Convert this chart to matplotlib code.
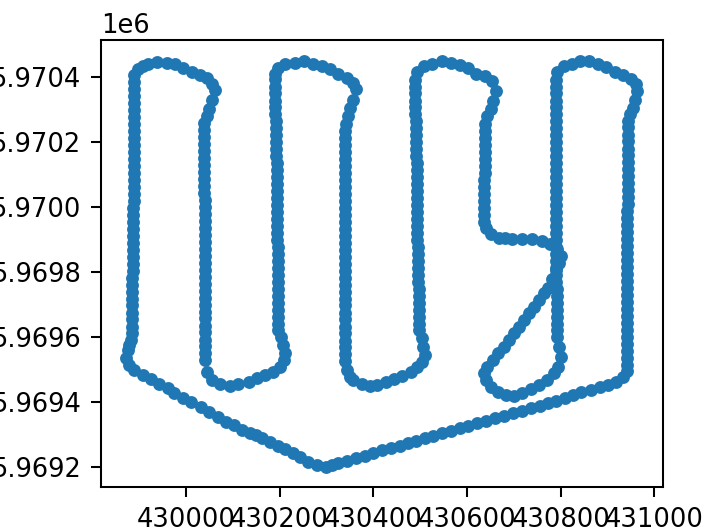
import numpy as np
import matplotlib
matplotlib.use('Agg')
import matplotlib.pyplot as plt

# Origine delle coordinate locali (UTM) [m]
E0 = 430000
N0 = 5969000

# Tick degli assi
x_ticks = [430000, 430200, 430400, 430600, 430800, 431000]
y_ticks = [5969200, 5969400, 5969600, 5969800, 5970000, 5970200, 5970400]

# Lato sud-ovest: dal vertice in basso fino all'angolo sinistro
sw_e = [299, 280, 261, 244, 229, 212, 197, 180, 163, 150, 138, 121, 102, 85, 68, 49, 32, 11, -6, -25,
        -38, -57, -74, -91, -110, -121, -127, -123, -121, -117, -115]
sw_n = [200, 206, 215, 231, 243, 255, 264, 277, 289, 297, 304, 314, 329, 338, 353, 369, 384, 399, 412, 427,
        442, 455, 470, 482, 498, 513, 534, 559, 574, 590, 611]

# Colonna 1 (salita)
c1_e = [-115, -115, -115, -115, -114, -114, -114, -114, -113, -113, -113, -113,
        -113, -112, -112, -112, -112, -112, -111, -111, -111, -111, -111, -111,
        -110, -110, -110, -110, -110, -110, -110, -110, -110, -110, -110, -110]
c1_n = [632, 654, 675, 697, 718, 740, 761, 783, 804, 826, 847, 869, 890, 912, 933, 955, 976, 998,
        1019, 1041, 1062, 1084, 1105, 1127, 1148, 1170, 1191, 1213, 1234, 1256, 1277, 1299, 1320, 1342, 1363, 1385]

# Curva in alto 1
t1_e = [-110, -102, -91, -81, -62, -40, -23, -6, 13, 30, 45, 57, 62, 57, 49, 45, 38]
t1_n = [1409, 1425, 1434, 1443, 1449, 1446, 1440, 1428, 1418, 1409, 1397, 1379, 1360, 1332, 1302, 1280, 1259]

# Colonna 2 (discesa)
c2_e = [38, 38, 38, 39, 39, 39, 39, 39, 39, 39, 40, 40, 40, 40, 40, 40, 40,
        40, 40, 40, 40, 40, 40, 40, 40, 40, 40, 40, 40, 40, 40, 40, 40, 40]
c2_n = [1237, 1216, 1194, 1173, 1151, 1130, 1108, 1087, 1065, 1044, 1022, 1001, 979, 958, 936, 915, 893,
        872, 850, 829, 807, 786, 764, 743, 721, 700, 678, 657, 635, 614, 592, 571, 549, 528]

# Curva in basso 2
b2_e = [45, 55, 74, 95, 112, 134, 153, 170, 187, 201, 210, 212, 208, 204, 197]
b2_n = [492, 467, 455, 449, 455, 461, 473, 482, 492, 507, 528, 550, 574, 599, 620]

# Colonna 3 (salita)
c3_e = [196, 196, 196, 196, 196, 196, 196, 196, 196, 196, 196, 196,
        194, 194, 194, 194, 194, 194, 194, 194, 194, 194, 194, 194,
        192, 192, 192, 192, 192, 192, 191, 191, 191, 191, 191, 191]
c3_n = [641, 663, 684, 706, 727, 749, 770, 792, 813, 835, 856, 878, 899, 921, 942, 964, 985, 1007,
        1028, 1050, 1071, 1093, 1114, 1136, 1157, 1179, 1200, 1222, 1243, 1265, 1286, 1308, 1329, 1351, 1372, 1394]

# Curva in alto 3
t3_e = [191, 197, 212, 233, 252, 271, 291, 308, 325, 344, 356, 363, 356, 350, 346, 341]
t3_n = [1412, 1428, 1440, 1446, 1452, 1443, 1434, 1425, 1412, 1397, 1382, 1363, 1332, 1305, 1280, 1256]

# Colonna 4 (discesa)
c4_e = [340, 340, 340, 340, 340, 340, 340, 340, 340, 340,
        339, 339, 339, 339, 339, 339, 339, 339, 339, 339, 339, 339, 339, 339,
        340, 340, 340, 340, 340, 340, 340, 340, 340, 340]
c4_n = [1234, 1213, 1191, 1170, 1148, 1127, 1105, 1084, 1062, 1041, 1019, 998, 976, 955, 933, 912, 890,
        869, 847, 826, 804, 783, 761, 740, 718, 697, 675, 654, 632, 611, 589, 568, 546, 525]

# Curva in basso 4
b4_e = [344, 350, 356, 375, 392, 409, 428, 445, 462, 481, 494, 505, 511, 507, 503, 498]
b4_n = [498, 476, 467, 455, 449, 452, 461, 470, 479, 492, 507, 522, 544, 568, 596, 620]

# Colonna 5 (salita)
c5_e = [497, 497, 497, 497, 497, 497, 496, 496, 496, 496, 496, 496,
        494, 494, 494, 494, 494, 494, 493, 493, 493, 493, 493, 493,
        491, 491, 491, 491, 491, 491, 490, 490, 490, 490, 490, 490]
c5_n = [641, 663, 684, 706, 727, 749, 770, 792, 813, 835, 856, 878, 899, 921, 942, 964, 985, 1007,
        1028, 1050, 1071, 1093, 1114, 1136, 1157, 1179, 1200, 1222, 1243, 1265, 1286, 1308, 1329, 1351, 1372, 1392]

# Curva in alto 5
t5_e = [494, 509, 526, 547, 566, 585, 602, 619, 638, 653, 662, 655, 651, 643, 638]
t5_n = [1418, 1434, 1443, 1452, 1446, 1437, 1428, 1412, 1403, 1388, 1357, 1326, 1302, 1280, 1256]

# Colonna 6 (discesa breve)
c6_e = [638, 638, 638, 638, 638, 638, 638, 637, 637, 637, 637, 637, 637, 637]
c6_n = [1234, 1213, 1191, 1170, 1148, 1127, 1105, 1084, 1062, 1041, 1019, 998, 976, 955]

# Tratto orizzontale, diagonale e anello in basso
k_e = [641, 651, 668, 682, 696, 717, 738, 759, 778, 791, 800, 797, 789, 781, 772, 764, 753, 742, 732, 721,
       711, 700, 689, 679, 666, 655, 643, 636, 641, 651, 666, 683, 700, 717, 736, 753, 770, 785, 795, 800,
       797, 793, 791]
k_n = [937, 918, 906, 904, 903, 903, 903, 897, 887, 872, 851, 829, 805, 780, 752, 734, 713, 691, 673, 651,
       630, 611, 590, 568, 550, 528, 507, 489, 467, 446, 430, 421, 418, 427, 439, 452, 467, 489, 507, 538,
       568, 599, 620]

# Colonna 7 (salita)
c7_e = [791, 791, 791, 791, 791, 791, 790, 790, 790, 790, 790, 790,
        790, 790, 790, 790, 790, 790, 789, 789, 789, 789, 789, 789,
        789, 789, 789, 789, 789, 789, 789, 789, 789, 789, 789, 789]
c7_n = [641, 663, 684, 706, 727, 749, 770, 792, 813, 835, 856, 878, 899, 921, 942, 964, 985, 1007,
        1028, 1050, 1071, 1093, 1114, 1136, 1157, 1179, 1200, 1222, 1243, 1265, 1286, 1308, 1329, 1351, 1372, 1392]

# Curva in alto 7
t7_e = [793, 806, 823, 842, 861, 880, 897, 916, 933, 950, 961, 963, 959, 954, 948, 944]
t7_n = [1418, 1434, 1443, 1452, 1452, 1440, 1431, 1418, 1409, 1394, 1379, 1357, 1332, 1305, 1286, 1265]

# Colonna 8 (discesa)
c8_e = [943, 943, 943, 943, 943, 943, 943, 943, 943, 943, 943, 943,
        942, 942, 942, 942, 942, 942, 942, 942, 942, 942, 942, 942,
        941, 941, 941, 941, 941, 941, 941, 941, 941, 941, 941, 941]
c8_n = [1246, 1224, 1203, 1181, 1160, 1138, 1117, 1095, 1074, 1052, 1031, 1009, 988, 966, 945, 923, 902, 880,
        859, 837, 816, 794, 773, 751, 730, 708, 687, 665, 644, 622, 601, 579, 558, 536, 515, 496]

# Lato sud-est: ritorno al vertice in basso
se_e = [933, 918, 901, 884, 865, 844, 827, 808, 789, 772, 755, 736, 717, 698, 679, 660, 641, 621, 602, 585,
        566, 547, 528, 511, 492, 475, 456, 437, 418, 399, 382, 363, 344, 325, 312]
se_n = [476, 461, 452, 446, 436, 430, 421, 412, 402, 396, 387, 381, 372, 366, 357, 350, 341, 335, 326, 320,
        310, 304, 295, 289, 280, 274, 264, 258, 252, 243, 234, 228, 218, 212, 206]


def main():

	legs_e = [sw_e, c1_e, t1_e, c2_e, b2_e, c3_e, t3_e, c4_e, b4_e, c5_e, t5_e, c6_e, k_e, c7_e, t7_e, c8_e, se_e]
	legs_n = [sw_n, c1_n, t1_n, c2_n, b2_n, c3_n, t3_n, c4_n, b4_n, c5_n, t5_n, c6_n, k_n, c7_n, t7_n, c8_n, se_n]

	east  = E0 + np.concatenate([np.array(l, dtype=float) for l in legs_e])
	north = N0 + np.concatenate([np.array(l, dtype=float) for l in legs_n])

	dpi = 185
	fig = plt.figure(figsize=(707/dpi, 529/dpi), dpi=dpi)
	ax = fig.add_axes([100.7/707, 42/529, 562/707, 446.7/529])
	ax.plot(east, north, '.', color='tab:blue', markersize=8)

	ax.set_xticks(x_ticks)
	ax.set_yticks(y_ticks)
	ax.ticklabel_format(useOffset=False)
	ax.tick_params(length=3.8, pad=4.0)

	fig.savefig('out.png', dpi=dpi)


if __name__ == "__main__":

	main()
